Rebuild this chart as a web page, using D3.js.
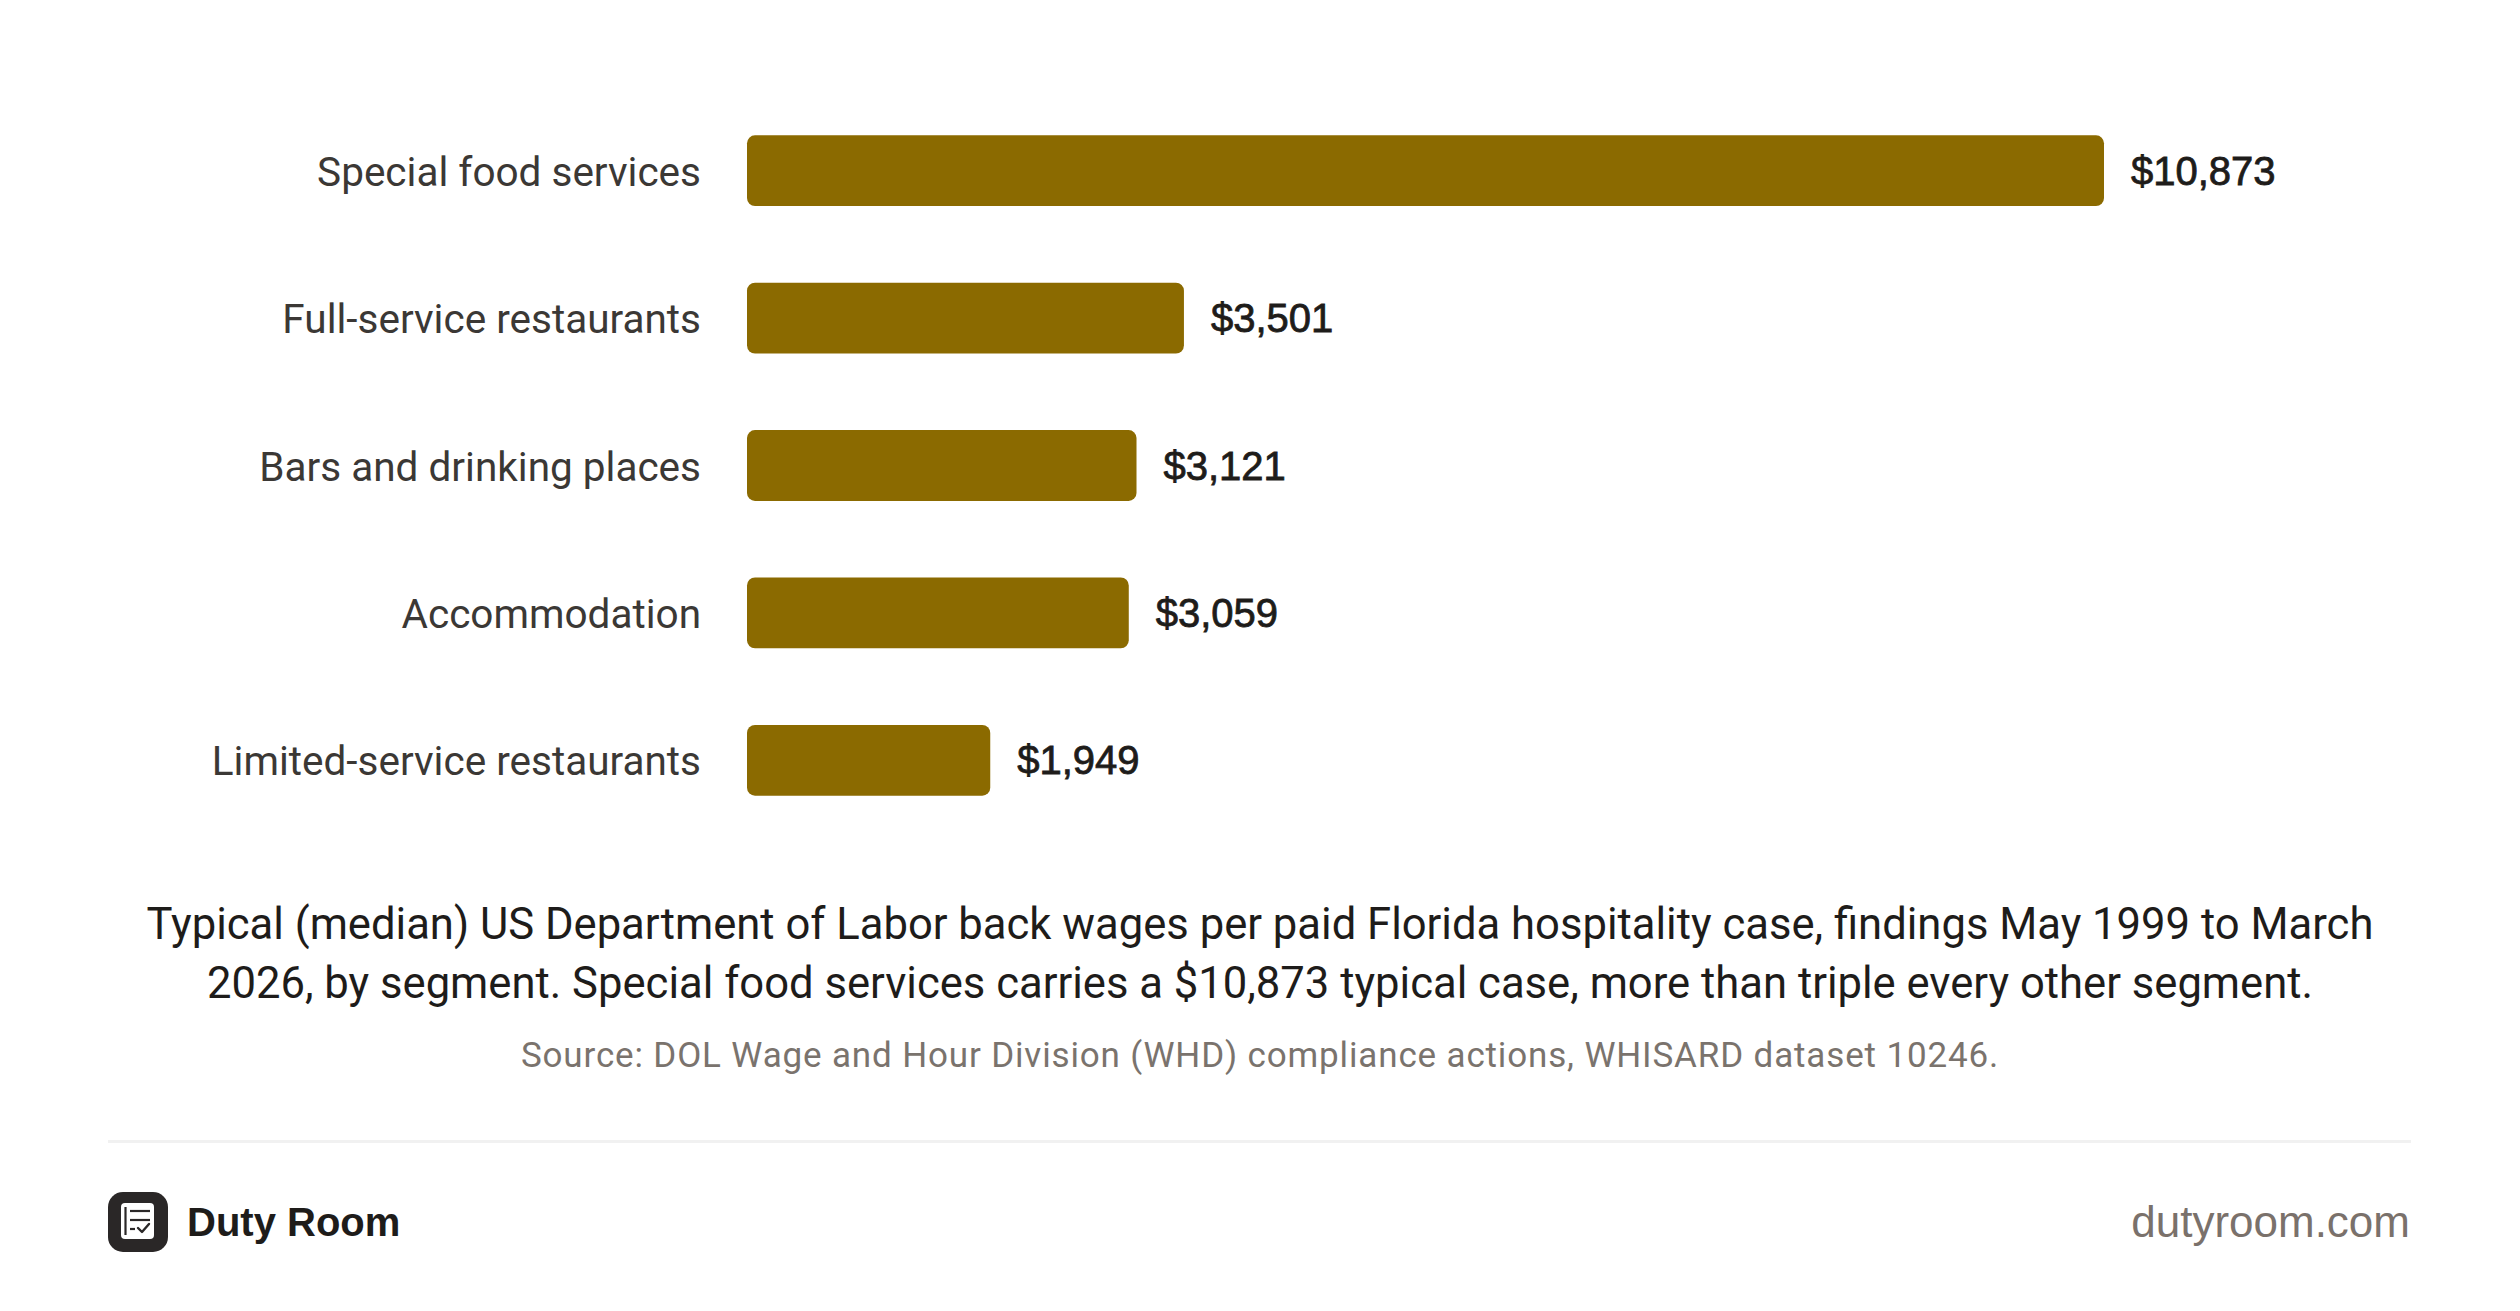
<!DOCTYPE html>
<html>
<head>
<meta charset="utf-8">
<script src="https://cdn.jsdelivr.net/npm/d3@7"></script>
<style>
  html, body { margin: 0; padding: 0; background: #ffffff; }
  svg { display: block; }
</style>
</head>
<body>
<div id="chart"></div>
<script>
// segments and median back wages
const categories = [
    "Special food services",
    "Full-service restaurants",
    "Bars and drinking places",
    "Accommodation",
    "Limited-service restaurants"
];
const values = [10873, 3501, 3121, 3059, 1949];

const captionLines = [
    "Typical (median) US Department of Labor back wages per paid Florida hospitality case, findings May 1999 to March",
    "2026, by segment. Special food services carries a $10,873 typical case, more than triple every other segment."
];
const sourceText = "Source: DOL Wage and Hour Division (WHD) compliance actions, WHISARD dataset 10246.";
const brandName = "Duty Room";
const siteName = "dutyroom.com";

document.addEventListener('DOMContentLoaded', function() {
    const width = 2520;
    const height = 1311;
    const barColor = "#8b6a00";

    const svg = d3.select("#chart")
        .append("svg")
        .attr("width", width)
        .attr("height", height);

    const x = d3.scaleLinear()
        .domain([0, d3.max(values)])
        .range([747, 2104]);

    const y = d3.scaleBand()
        .domain(categories)
        .range([97, 834])
        .paddingInner(0.52)
        .paddingOuter(0.26);

    const rows = categories.map((c, i) => ({ name: c, value: values[i] }));

    // bars
    svg.selectAll(".bar")
        .data(rows)
        .enter().append("rect")
        .attr("class", "bar")
        .attr("x", x(0))
        .attr("y", d => y(d.name))
        .attr("width", d => x(d.value) - x(0))
        .attr("height", y.bandwidth())
        .attr("rx", 8)
        .attr("fill", barColor);

    // category labels
    svg.selectAll(".cat")
        .data(rows)
        .enter().append("text")
        .attr("class", "cat")
        .attr("x", 701)
        .attr("y", d => y(d.name) + y.bandwidth() / 2 + 15)
        .attr("text-anchor", "end")
        .style("font-family", "Roboto, sans-serif")
        .style("font-size", "40.5px")
        .style("fill", "#3b3835")
        .text(d => d.name);

    // value labels
    const fmt = d3.format("$,");
    svg.selectAll(".val")
        .data(rows)
        .enter().append("text")
        .attr("class", "val")
        .attr("x", d => x(d.value) + 27)
        .attr("y", d => y(d.name) + y.bandwidth() / 2 + 14)
        .style("font-family", "'Liberation Sans', Arial, sans-serif")
        .style("font-size", "40px")
        .style("fill", "#1e1c1a")
        .style("stroke", "#1e1c1a")
        .style("stroke-width", "0.8px")
        .text(d => fmt(d.value));

    // caption
    svg.selectAll(".caption")
        .data(captionLines)
        .enter().append("text")
        .attr("class", "caption")
        .attr("x", width / 2)
        .attr("y", (d, i) => 939 + i * 59)
        .attr("text-anchor", "middle")
        .style("font-family", "Roboto, sans-serif")
        .style("font-size", "43.6px")
        .style("fill", "#1e1c1a")
        .text(d => d);

    svg.append("text")
        .attr("x", width / 2)
        .attr("y", 1067)
        .attr("text-anchor", "middle")
        .style("font-family", "Roboto, sans-serif")
        .style("font-size", "35px")
        .style("letter-spacing", "0.85px")
        .style("fill", "#7a736d")
        .text(sourceText);

    // separator
    svg.append("line")
        .attr("x1", 108).attr("x2", 2411)
        .attr("y1", 1141.5).attr("y2", 1141.5)
        .attr("stroke", "#f1f1f1")
        .attr("stroke-width", 3);

    // logo
    const logo = svg.append("g").attr("transform", "translate(108,1192)");
    logo.append("rect")
        .attr("width", 60).attr("height", 60)
        .attr("rx", 15)
        .attr("fill", "#2a2727");
    logo.append("rect")
        .attr("x", 13).attr("y", 11)
        .attr("width", 33).attr("height", 36)
        .attr("rx", 4)
        .attr("fill", "#ffffff");
    logo.append("line")
        .attr("x1", 17.5).attr("x2", 17.5).attr("y1", 15).attr("y2", 43)
        .attr("stroke", "#2a2727").attr("stroke-width", 2.2);
    logo.append("line")
        .attr("x1", 22).attr("x2", 42).attr("y1", 19).attr("y2", 19)
        .attr("stroke", "#2a2727").attr("stroke-width", 2.2);
    logo.append("line")
        .attr("x1", 22).attr("x2", 42).attr("y1", 28).attr("y2", 28)
        .attr("stroke", "#2a2727").attr("stroke-width", 2.2);
    logo.append("line")
        .attr("x1", 22).attr("x2", 27).attr("y1", 37).attr("y2", 37)
        .attr("stroke", "#2a2727").attr("stroke-width", 2.2);
    logo.append("path")
        .attr("d", "M30,36 L34,40 L41,32")
        .attr("fill", "none")
        .attr("stroke", "#2a2727").attr("stroke-width", 2.4)
        .attr("stroke-linecap", "round").attr("stroke-linejoin", "round");

    svg.append("text")
        .attr("x", 187)
        .attr("y", 1236)
        .style("font-family", "'Liberation Sans', Arial, sans-serif")
        .style("font-size", "40px")
        .style("font-weight", "bold")
        .style("fill", "#1e1c1a")
        .text(brandName);

    svg.append("text")
        .attr("x", 2410)
        .attr("y", 1237)
        .attr("text-anchor", "end")
        .style("font-family", "'Liberation Sans', Arial, sans-serif")
        .style("font-size", "44px")
        .style("fill", "#7a716b")
        .text(siteName);
});
</script>
</body>
</html>
